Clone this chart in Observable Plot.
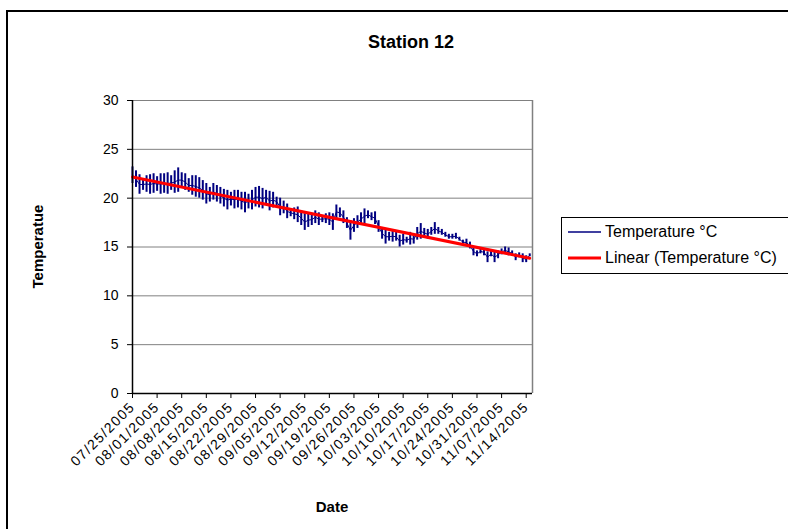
<!DOCTYPE html>
<html>
<head>
<meta charset="utf-8">
<script src="https://cdn.jsdelivr.net/npm/d3@7"></script>
<script src="https://cdn.jsdelivr.net/npm/@observablehq/plot@0.6"></script>
<style>
  html, body { margin: 0; padding: 0; background: #fff; overflow: hidden; }
  body { width: 788px; height: 529px; position: relative; font-family: "Liberation Sans", Arial, sans-serif; }
  #frame { position: absolute; left: 6px; top: 10px; width: 1200px; height: 900px; border: 2px solid #000; box-sizing: border-box; }
  #chart { position: absolute; left: 0; top: 0; }
  .txt { position: absolute; color: #000; white-space: nowrap; }
  #title { left: 311px; width: 200px; top: 32px; text-align: center; font-weight: bold; font-size: 18px; }
  #xlab { left: 232px; width: 200px; top: 498px; text-align: center; font-weight: bold; font-size: 15px; }
  #ylab { left: -63px; width: 200px; top: 238px; text-align: center; font-weight: bold; font-size: 15px; transform: rotate(-90deg); }
  #legend { position: absolute; left: 561px; top: 217px; width: 400px; height: 57px; border: 1px solid #000; box-sizing: border-box; background: #fff; }
  .lrow { position: absolute; left: 6px; height: 20px; display: flex; align-items: center; font-size: 16px; }
  .lrow svg { margin-right: 4px; }
  #chart svg g[aria-label="x-axis tick label"] text { letter-spacing: 1.4px; }
</style>
</head>
<body>
<div id="frame"></div>
<div id="chart"></div>
<div class="txt" id="title">Station 12</div>
<div class="txt" id="xlab">Date</div>
<div class="txt" id="ylab">Temperatue</div>
<div id="legend">
  <div class="lrow" style="top:4px"><svg width="33" height="4"><line x1="0" x2="33" y1="2" y2="2" stroke="#000080" stroke-width="1.3"/></svg>Temperature °C</div>
  <div class="lrow" style="top:30px"><svg width="33" height="4"><line x1="0" x2="33" y1="2" y2="2" stroke="#ff0000" stroke-width="3"/></svg>Linear (Temperature °C)</div>
</div>
<script>
// ---- data ----
const seriesName = "Temperature °C";
const trendName = "Linear (Temperature °C)";
const firstDay = "2005-07-25";
// daily maximum temperature (°C), one value per day from 07/25/2005
const dayHigh = [
  23.2, 22.8, 22.4, 22.0, 22.3, 22.4, 22.5, 22.2, 22.5, 22.5,
  22.6, 22.3, 22.8, 23.1, 22.6, 22.5, 22.0, 22.3, 22.3, 22.1,
  21.8, 21.5, 21.1, 21.5, 21.3, 21.1, 20.9, 20.8, 20.6, 20.8,
  20.8, 20.6, 20.6, 20.4, 20.8, 21.1, 21.2, 21.0, 20.8, 20.7,
  20.6, 20.1, 20.0, 19.7, 19.4, 18.9, 19.0, 19.1, 18.7, 18.4,
  18.5, 18.4, 18.7, 18.5, 18.2, 18.4, 18.5, 18.4, 19.3, 19.0,
  18.7, 18.0, 17.7, 17.9, 18.2, 18.5, 18.9, 18.7, 18.5, 18.6,
  17.7, 17.0, 16.8, 16.5, 16.7, 16.5, 16.2, 16.3, 16.0, 16.5,
  16.3, 17.0, 17.4, 16.9, 16.8, 17.0, 17.5, 17.0, 16.8, 16.5,
  16.3, 16.3, 16.4, 16.0, 15.7, 15.8, 15.5, 15.0, 14.6, 14.8,
  14.8, 14.5, 14.6, 14.5, 14.6, 14.8, 15.0, 14.9, 14.6, 14.3,
  14.4, 14.3, 14.1, 14.3
];
// daily minimum temperature (°C)
const dayLow = [
  21.5, 21.1, 20.4, 20.8, 20.6, 20.4, 20.5, 20.7, 20.4, 20.5,
  20.4, 20.8, 20.5, 20.6, 21.1, 20.8, 20.6, 20.3, 20.1, 20.0,
  19.8, 19.4, 19.6, 19.8, 19.6, 19.4, 19.1, 18.8, 19.2, 18.9,
  19.0, 18.8, 18.5, 18.9, 18.8, 19.1, 19.0, 18.9, 19.4, 18.7,
  19.0, 19.2, 18.2, 18.4, 17.9, 18.1, 17.8, 17.5, 17.2, 16.7,
  17.0, 17.2, 17.4, 17.2, 17.5, 17.4, 17.2, 16.7, 17.9, 18.0,
  17.4, 16.9, 15.7, 16.5, 16.9, 17.2, 17.4, 17.9, 17.7, 17.3,
  16.5, 15.8, 15.3, 15.6, 15.5, 15.6, 15.0, 15.2, 15.4, 15.2,
  15.3, 15.7, 15.8, 16.0, 15.8, 16.2, 16.3, 16.3, 16.2, 16.0,
  15.8, 15.8, 15.8, 15.6, 15.3, 15.1, 14.8, 14.1, 14.0, 14.3,
  14.1, 13.4, 14.0, 13.4, 13.8, 14.2, 14.3, 14.1, 14.1, 13.6,
  13.9, 13.4, 13.4, 14.0
];
const xTickLabels = [
  "07/25/2005", "08/01/2005", "08/08/2005", "08/15/2005", "08/22/2005",
  "08/29/2005", "09/05/2005", "09/12/2005", "09/19/2005", "09/26/2005",
  "10/03/2005", "10/10/2005", "10/17/2005", "10/24/2005", "10/31/2005",
  "11/07/2005", "11/14/2005"
];
const yTicks = [0, 5, 10, 15, 20, 25, 30];
const lastDayEnd = "2005-11-15T19:00Z";

// ---- build tables ----
const parseMDY = d3.utcParse("%m/%d/%Y");
const fmtMDY = d3.utcFormat("%m/%d/%Y");
const start = d3.utcParse("%Y-%m-%d")(firstDay);
const days = dayHigh.map((hi, i) => ({date: d3.utcDay.offset(start, i), hi, lo: dayLow[i]}));
const points = days.flatMap(d => [{date: d.date, t: d.lo}, {date: d.date, t: d.hi}]);
const xTicks = xTickLabels.map(parseMDY);
const xDomain = [start, new Date(lastDayEnd)];

const chart = Plot.plot({
  width: 788,
  height: 529,
  marginLeft: 132,
  marginRight: 256,
  marginTop: 100,
  marginBottom: 136,
  style: {fontFamily: "'Liberation Sans', Arial, sans-serif", fontSize: "14px", color: "#000", background: "transparent"},
  x: {type: "utc", domain: xDomain},
  y: {domain: [0, 30]},
  marks: [
    Plot.gridY(yTicks, {stroke: "#808080", strokeOpacity: 1, strokeWidth: 1}),
    Plot.ruleX([xDomain[1]], {stroke: "#808080", strokeWidth: 1.5}),
    Plot.ruleX(days, {x: "date", y1: "lo", y2: "hi", stroke: "#000080", strokeWidth: 2}),
    Plot.line(days, {x: "date", y: d => (d.lo + d.hi) / 2, stroke: "#000080", strokeWidth: 1}),
    Plot.linearRegressionY(points, {x: "date", y: "t", stroke: "#ff0000", strokeWidth: 3, ci: 0}),
    Plot.ruleY([0], {stroke: "#000", strokeWidth: 1.5}),
    Plot.ruleX([xDomain[0]], {stroke: "#000", strokeWidth: 1.5}),
    Plot.axisY({ticks: yTicks, tickSize: 5, tickPadding: 9, label: null, fontSize: 14, stroke: "#000"}),
    Plot.axisX({ticks: xTicks, tickFormat: fmtMDY, tickRotate: -45, tickSize: 5, tickPadding: 6, label: null, fontSize: 14, stroke: "#000"})
  ]
});
document.getElementById("chart").appendChild(chart);
</script>
</body>
</html>
